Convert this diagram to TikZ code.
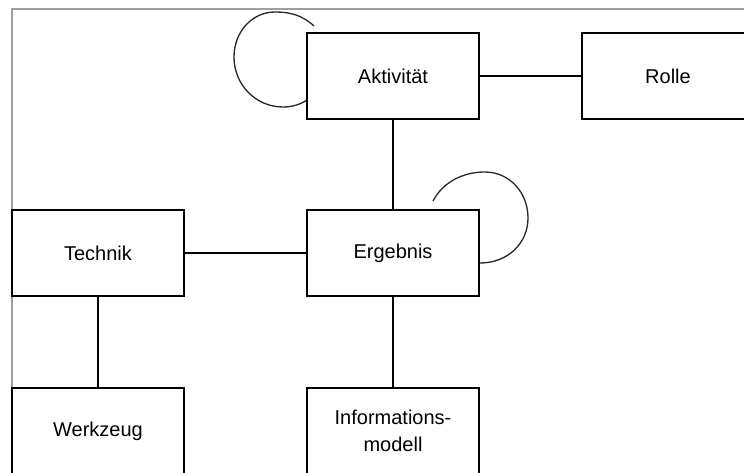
\documentclass[tikz,border=0pt]{standalone}
\usepackage{fontspec}
\setmainfont{Liberation Sans}
\begin{document}
\begin{tikzpicture}[x=1pt,y=-1pt,
  box/.style={draw=black,line width=1.8pt,fill=white,minimum width=172pt,minimum height=86pt,inner sep=0pt,align=center,font=\fontsize{20}{27}\selectfont},
  conn/.style={draw=black,line width=1.8pt},
  loopline/.style={draw=black!85,line width=1.3pt},
  frame/.style={draw=black!38,line width=1.6pt}]
\useasboundingbox (0,0) rectangle (744,473);
\clip (0,0) rectangle (744,473);
\fill[white] (0,0) rectangle (744,473);
\coordinate (fbl) at (12,480);
\coordinate (ftl) at (12,9);
\coordinate (ftr) at (760,9);
\draw[frame] (fbl) -- (ftl) -- (ftr);
% loops (drawn first so boxes cover their ends)
\coordinate (la) at (314,26);
\coordinate (lb) at (307,100);
\draw[loopline] (la) .. controls (302,15) and (290,12) .. (275,12)
  .. controls (252,12) and (234,32) .. (234,57)
  .. controls (234,85) and (256,107) .. (283,107)
  .. controls (293,107) and (301,104) .. (lb);
\coordinate (lc) at (433,201);
\coordinate (ld) at (480,263);
\draw[loopline] (lc) .. controls (443,182) and (463,172) .. (485,172)
  .. controls (509,172) and (528,192) .. (528,218)
  .. controls (528,243) and (508,263) .. (ld);
% nodes
\node[box] (akt) at (393,76) {Aktivität};
\node[box] (rolle) at (668,76) {Rolle};
\node[box] (tech) at (98,253) {Technik};
\node[box] (erg) at (393,253) {Ergebnis};
\node[box] (werk) at (98,431) {Werkzeug};
\node[box] (info) at (393,431) {Informations-\\modell};
% connectors
\draw[conn] (akt) -- (rolle);
\draw[conn] (akt) -- (erg);
\draw[conn] (tech) -- (erg);
\draw[conn] (tech) -- (werk);
\draw[conn] (erg) -- (info);
\end{tikzpicture}
\end{document}
